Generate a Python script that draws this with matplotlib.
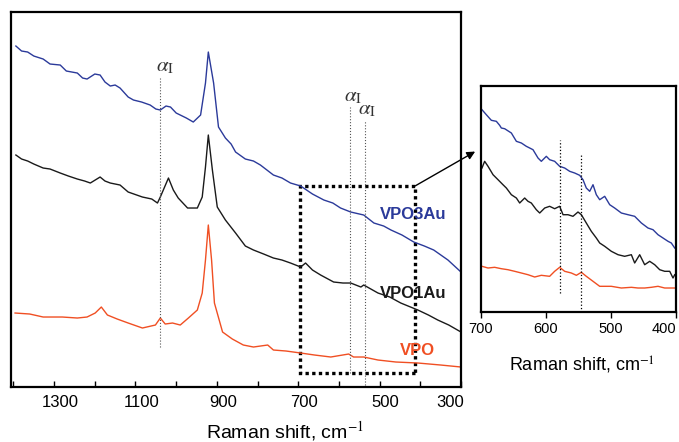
import matplotlib
matplotlib.use('Agg')
import matplotlib.pyplot as plt
import matplotlib.transforms as mtransforms
from matplotlib.patches import Rectangle

plt.rcParams['font.family'] = ['Liberation Sans', 'DejaVu Sans']
plt.rcParams['mathtext.fontset'] = 'stix'

# main spectra (Raman shift cm-1, intensity a.u., offset as in the figure)
wn_3au = [1394, 1380, 1365, 1350, 1327, 1310, 1285, 1270, 1243, 1230, 1219, 1200, 1187, 1175,
          1162, 1150, 1138, 1118, 1105, 1085, 1064, 1050, 1039, 1025, 1014, 1000, 990, 975,
          958, 940, 928, 921, 908, 896, 879, 865, 854, 830, 810, 793, 761, 740, 719, 694,
          665, 637, 615, 596, 571, 539, 514, 490, 472, 445, 416, 390, 367, 332, 300]
i_3au = [341, 336, 335, 331, 328, 323, 322, 316, 314, 309, 308, 313, 312, 305,
         301, 302, 299, 290, 287, 285, 282, 278, 277, 281, 280, 274, 272, 269,
         265, 272, 304, 335, 304, 260, 249, 243, 235, 228, 226, 222, 212, 209, 204, 201,
         193, 187, 184, 179, 175, 172, 164, 161, 157, 152, 145, 141, 137, 127, 115]

wn_1au = [1394, 1380, 1365, 1350, 1327, 1310, 1285, 1265, 1243, 1225, 1211, 1187, 1175, 1162,
          1138, 1118, 1083, 1060, 1046, 1039, 1019, 1007, 995, 972, 948, 936, 928, 921, 911,
          899, 879, 854, 830, 810, 785, 761, 740, 719, 694, 682, 665, 645, 613, 590, 571,
          546, 539, 504, 475, 448, 406, 380, 357, 330, 300]
i_1au = [232, 228, 226, 223, 219, 218, 214, 211, 208, 206, 204, 210, 206, 204,
         202, 195, 190, 188, 184, 190, 209, 197, 189, 179, 179, 190, 220, 252, 217,
         180, 167, 154, 141, 137, 133, 129, 127, 124, 120, 124, 117, 112, 105, 104, 104,
         100, 102, 94, 90, 84, 77, 72, 67, 62, 55]

wn_vpo = [1396, 1360, 1327, 1280, 1243, 1219, 1199, 1184, 1169, 1145, 1118, 1083, 1051, 1039,
          1027, 1009, 990, 970, 948, 936, 928, 921, 913, 906, 886, 862, 835, 810, 775, 761,
          730, 694, 660, 620, 576, 564, 539, 504, 460, 406, 350, 300]
i_vpo = [74, 73, 70, 70, 69, 70, 74, 80, 72, 68, 64, 59, 62, 69,
         63, 64, 62, 69, 77, 94, 127, 162, 127, 84, 55, 48, 42, 40, 42, 37,
         36, 34, 32, 30, 33, 30, 30, 27, 25, 24, 22, 20]

# inset spectra (700-400 cm-1)
wn_in_3au = [698.5, 691.8, 684.1, 676.4, 671.3, 668.7, 663.6, 653.3, 645.6, 637.9, 630.3, 625.1,
             620.0, 612.3, 607.2, 599.5, 594.4, 586.7, 579.0, 571.3, 563.6, 555.9, 548.2, 543.1,
             538.0, 532.8, 527.7, 522.6, 517.4, 509.7, 502.0, 494.4, 484.1, 473.8, 463.6, 453.3,
             443.1, 435.4, 427.7, 420.0, 412.3, 407.2, 402.0]
i_in_3au = [202.3, 197.3, 191.7, 190.7, 186.7, 184.0, 183.3, 179.0, 170.7, 169.0, 165.7, 164.0,
            162.3, 154.0, 150.7, 155.7, 152.3, 150.7, 145.7, 144.0, 140.7, 139.0, 136.7, 132.3,
            124.0, 120.7, 127.3, 117.3, 112.3, 115.7, 107.3, 104.0, 99.0, 97.3, 95.7, 89.0,
            84.0, 82.3, 77.3, 74.0, 70.7, 69.0, 64.0]

wn_in_1au = [698.5, 694.4, 689.2, 681.5, 673.8, 666.2, 661.0, 653.3, 645.6, 640.5, 632.8, 627.7,
             622.6, 614.9, 609.7, 602.0, 594.4, 586.7, 579.0, 573.8, 566.2, 558.5, 550.8, 545.6,
             538.0, 530.3, 522.6, 517.4, 509.7, 499.5, 489.2, 479.0, 468.7, 463.6, 455.9, 448.2,
             440.5, 432.8, 425.1, 417.4, 409.7, 404.6, 402.0]
i_in_1au = [144.0, 150.7, 145.7, 137.3, 132.3, 127.3, 124.0, 117.3, 114.0, 109.0, 114.0, 110.7,
            109.0, 102.3, 99.0, 104.0, 105.7, 103.3, 105.7, 97.3, 97.3, 95.7, 100.0, 97.3,
            89.0, 80.7, 74.0, 69.0, 65.7, 60.7, 57.3, 55.7, 57.3, 49.0, 57.3, 47.3,
            50.7, 47.3, 42.3, 40.7, 40.7, 34.0, 37.3]

wn_in_vpo = [698.5, 689.2, 679.0, 668.7, 658.5, 648.2, 637.9, 627.7, 617.4, 607.2, 594.4, 586.7,
             579.0, 571.3, 561.0, 553.3, 545.6, 538.0, 527.7, 517.4, 509.7, 499.5, 484.1, 468.7,
             458.5, 448.2, 438.0, 427.7, 417.4, 402.0]
i_in_vpo = [45.7, 44.0, 44.7, 43.3, 42.3, 40.7, 39.0, 37.3, 35.0, 36.7, 35.7, 40.7,
            44.7, 40.7, 39.0, 36.7, 39.7, 35.7, 30.7, 25.7, 25.7, 25.7, 24.0, 24.7,
            24.0, 24.0, 24.7, 25.7, 24.0, 24.0]

main_ticks = [1300, 1100, 900, 700, 500, 300]
main_minor = [1400, 1200, 1000, 800, 600, 400]
inset_ticks = [700, 600, 500, 400]

c_blue = '#2b3a9a'
c_black = '#1a1a1a'
c_orange = '#f04f23'

fig = plt.figure(figsize=(6.79, 4.42), dpi=100)
ax = fig.add_axes([0.0162, 0.1244, 0.6627, 0.8484])
ax.plot(wn_3au, i_3au, color=c_blue, lw=1.0)
ax.plot(wn_1au, i_1au, color=c_black, lw=1.0)
ax.plot(wn_vpo, i_vpo, color=c_orange, lw=1.0)
ax.set_xlim(1406, 300)
ax.set_ylim(0, 375)
ax.set_xticks(main_ticks)
ax.set_xticks(main_minor, minor=True)
ax.tick_params(axis='x', which='both', direction='in', length=4, width=1, labelsize=12, pad=6)
ax.set_yticks([])
for s in ax.spines.values():
    s.set_linewidth(1.6)

# tick labels sit a little right of their ticks, last one kept inside
shift = mtransforms.ScaledTranslation(6 / 100, 0, fig.dpi_scale_trans)
labels = ax.get_xticklabels()
for lab in labels[:-1]:
    lab.set_transform(lab.get_transform() + shift)
labels[-1].set_horizontalalignment('right')
labels[-1].set_transform(labels[-1].get_transform() + mtransforms.ScaledTranslation(3 / 100, 0, fig.dpi_scale_trans))

# alpha_I markers
ax.plot([1039, 1039], [40, 309], color='#555555', lw=0.8, ls=':')
ax.plot([573, 573], [14, 280], color='#555555', lw=0.8, ls=':')
ax.plot([537, 537], [2, 267], color='#555555', lw=0.8, ls=':')
ax.text(1050, 311, r'$\alpha_\mathrm{I}$', fontsize=15, ha='left', va='bottom', color='#333333')
ax.text(588, 281, r'$\alpha_\mathrm{I}$', fontsize=15, ha='left', va='bottom', color='#333333')
ax.text(552, 268, r'$\alpha_\mathrm{I}$', fontsize=15, ha='left', va='bottom', color='#333333')

ax.text(417, 173, 'VPO3Au', color=c_blue, fontsize=12, fontweight='bold', ha='center', va='center')
ax.text(418, 94, 'VPO1Au', color=c_black, fontsize=12, fontweight='bold', ha='center', va='center')
ax.text(408, 37, 'VPO', color=c_orange, fontsize=12, fontweight='bold', ha='center', va='center')

ax.add_patch(Rectangle((413, 14), 282, 187, fill=False, ls=(0, (1, 1)), lw=2.4, ec='k'))

fig.text(285 / 679, 0.025, 'Raman shift, cm$^{-1}$', fontsize=14, ha='center', va='center')

# inset
ax2 = fig.add_axes([0.7084, 0.2941, 0.2872, 0.5113])
ax2.plot(wn_in_3au, i_in_3au, color=c_blue, lw=1.0)
ax2.plot(wn_in_1au, i_in_1au, color=c_black, lw=1.0)
ax2.plot(wn_in_vpo, i_in_vpo, color=c_orange, lw=1.0)
ax2.plot([579, 579], [19, 172], color='k', lw=0.9, ls=':')
ax2.plot([546.5, 546.5], [0, 159], color='k', lw=0.9, ls=':')
ax2.set_xlim(700, 400)
ax2.set_ylim(0, 226)
ax2.set_xticks(inset_ticks)
ax2.tick_params(axis='x', direction='out', length=4, width=1, labelsize=10.5)
ax2.set_yticks([])
for s in ax2.spines.values():
    s.set_linewidth(1.6)
ax2.get_xticklabels()[-1].set_horizontalalignment('right')
fig.text(582 / 679, 0.174, 'Raman shift, cm$^{-1}$', fontsize=13, ha='center', va='center')

ax2.annotate('', xy=(-0.03, 0.71), xycoords='axes fraction', xytext=(413, 201),
             textcoords=ax.transData, annotation_clip=False,
             arrowprops=dict(arrowstyle='-|>', color='k', lw=1.0, mutation_scale=12,
                             shrinkA=0, shrinkB=0))

fig.savefig('out.png', dpi=100)
